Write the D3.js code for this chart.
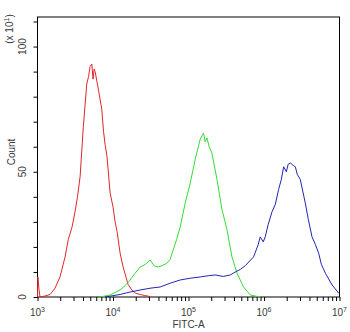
<!DOCTYPE html>
<html><head><meta charset="utf-8">
<script src="https://cdn.jsdelivr.net/npm/d3@7"></script>
<style>body{margin:0;background:#fff}svg{display:block}</style>
</head><body>
<script>
// log10(FITC-A) positions and counts (x10)
const redLog   = [3.00,3.005,3.02,3.033,3.10,3.166,3.232,3.298,3.365,3.408,3.458,3.497,3.53,3.564,3.607,3.652,3.676,3.696,3.719,3.736,3.750,3.763,3.806,3.851,3.875,3.895,3.921,3.962,4.00,4.028,4.055,4.094,4.134,4.183,4.20,4.249,4.30,4.36,4.42,4.49];
const redCount = [0,8,3,0,0.4,1,3.5,8,16,23,28,34,40,48,68,85,88,92,93,87,91,90,83,75,66,61,56,41.5,36,30,26,17.5,12,6.8,5,2.8,1.5,1,0.6,0.2];
const greenLog   = [3.829,3.96,4.094,4.16,4.227,4.293,4.36,4.426,4.492,4.545,4.598,4.651,4.713,4.757,4.797,4.843,4.89,4.956,5.023,5.089,5.155,5.199,5.221,5.244,5.274,5.31,5.377,5.443,5.509,5.576,5.642,5.729,5.818,5.95];
const greenCount = [0,0.8,2.8,4.5,6.8,9.5,12,13,14.8,12.5,12,12.5,13.5,15,18.8,23,28,37.5,45.5,55,63,65.5,62,63.5,60,57.5,47,35,27,16,9.5,4,0.8,0];
const blueLog   = [3.895,4.094,4.227,4.36,4.49,4.625,4.757,4.89,5.023,5.155,5.261,5.354,5.46,5.553,5.62,5.686,5.751,5.862,5.924,5.95,5.99,6.016,6.056,6.106,6.15,6.194,6.23,6.26,6.296,6.32,6.349,6.389,6.415,6.44,6.48,6.547,6.587,6.636,6.68,6.724,6.76,6.813,6.902,6.99];
const blueCount = [0,1,2,2.8,3.5,4,5.5,6.8,7.5,8,8.5,8.8,8.2,8.8,10,11,12.5,16,21,24,22,24,29,34,37,43,47,52,50,53,53.5,52.5,52,49,47,37.5,31,24,21,17.5,13,9.5,4.8,1.5];
const yTickLabels = ["0","50","100"];
const xDecades = [3,4,5,6,7];

const W = 350, H = 332;
const m = {l:37.5, r:10.5, t:17, b:35};
const svg = d3.select("body").append("svg").attr("width",W).attr("height",H);
const x = d3.scaleLog().domain([1e3,1e7]).range([m.l, W-m.r]);
const y = d3.scaleLinear().domain([0,111.8]).range([H-m.b, m.t]);
const font = "Liberation Sans, Arial, sans-serif";
const txtCol = "#3a3a3a";

// frame
svg.append("rect").attr("x",m.l).attr("y",m.t).attr("width",W-m.r-m.l).attr("height",H-m.b-m.t)
  .attr("fill","none").attr("stroke","#000").attr("stroke-width",1);

// y axis
const yAx = svg.append("g").attr("transform",`translate(${m.l},0)`)
  .call(d3.axisLeft(y).tickValues(d3.range(0,111,10)).tickSize(4).tickFormat(""));
yAx.select(".domain").remove();
yAx.selectAll("line").attr("stroke","#000");
yTickLabels.forEach(t => {
  svg.append("text").attr("transform",`translate(${m.l-11.5},${y(+t)}) rotate(-90)`)
    .attr("text-anchor","middle").attr("font-family",font).attr("font-size",10).attr("fill",txtCol).text(t);
});
svg.append("text").attr("transform",`translate(${m.l-22.5},${y(0)-145}) rotate(-90)`)
  .attr("text-anchor","middle").attr("font-family",font).attr("font-size",10).attr("fill",txtCol).text("Count");
const mult = svg.append("text").attr("transform",`translate(13,29) rotate(-90)`)
  .attr("text-anchor","middle").attr("font-family",font).attr("font-size",10).attr("fill",txtCol);
mult.append("tspan").text("(x 10");
mult.append("tspan").attr("font-size",7).attr("dy",-4).text("1");
mult.append("tspan").attr("dy",4).text(")");

// x axis ticks
const xt = [];
for (let d=3; d<7; d++) for (let k=1; k<10; k++) xt.push(k*Math.pow(10,d));
xt.push(1e7);
const xAx = svg.append("g").attr("transform",`translate(0,${H-m.b})`)
  .call(d3.axisBottom(x).tickValues(xt).tickSize(4).tickFormat(""));
xAx.select(".domain").remove();
xAx.selectAll("line").attr("stroke","#000");
xDecades.forEach(d => {
  const t = svg.append("text").attr("x",x(Math.pow(10,d))).attr("y",H-m.b+19)
    .attr("text-anchor","middle").attr("font-family",font).attr("font-size",10).attr("fill",txtCol);
  t.append("tspan").text("10");
  t.append("tspan").attr("font-size",7).attr("dy",-4).text(d);
});
svg.append("text").attr("x",x(Math.pow(10,5))).attr("y",H-m.b+31)
  .attr("text-anchor","middle").attr("font-family",font).attr("font-size",10).attr("fill",txtCol).text("FITC-A");

// curves
const line = d3.line().x(d=>x(Math.pow(10,d[0]))).y(d=>y(d[1]));
const series = [
  {lx:redLog, c:redCount, col:"#e0262b"},
  {lx:greenLog, c:greenCount, col:"#33dd33"},
  {lx:blueLog, c:blueCount, col:"#2424b0"}
];
series.forEach(s => {
  svg.append("path").datum(s.lx.map((v,i)=>[v,s.c[i]]))
    .attr("d",line).attr("fill","none").attr("stroke",s.col).attr("stroke-width",1);
});
</script>
</body></html>
